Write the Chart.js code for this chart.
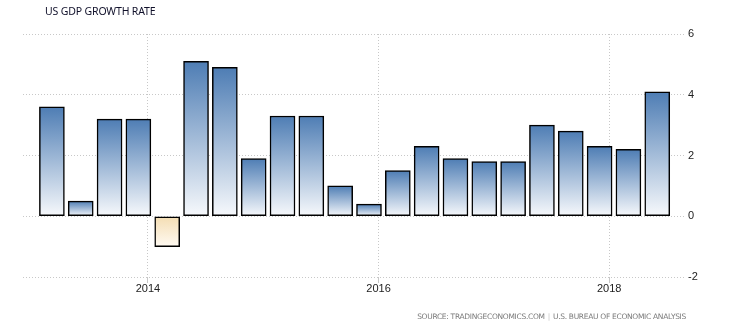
<!DOCTYPE html>
<html>
<head>
<meta charset="utf-8">
<script src="https://cdn.jsdelivr.net/npm/chart.js@4/dist/chart.umd.min.js"></script>
<style>
  html, body { margin: 0; padding: 0; background: #fff; }
  #wrap { position: relative; width: 752px; height: 331px; }
  #title { position: absolute; left: 45px; top: 4px; font: 10.5px "Noto Sans", "DejaVu Sans", sans-serif; color: #10102a; white-space: nowrap; letter-spacing: -0.15px; }
  #source { position: absolute; right: 66px; top: 312px; font: 7.5px "DejaVu Sans", sans-serif; color: #7a7a7a; white-space: nowrap; letter-spacing: -0.3px; }
  #source .sep { color: #c8c8c8; padding: 0 3px; }
  canvas { position: absolute; left: 0; top: 0; }
</style>
</head>
<body>
<div id="wrap">
  <canvas id="c" width="752" height="331"></canvas>
  <div id="title">US GDP GROWTH RATE</div>
  <div id="source">SOURCE: TRADINGECONOMICS.COM<span class="sep">|</span>U.S. BUREAU OF ECONOMIC ANALYSIS</div>
</div>
<script>
// Data
const quarters = ["2013Q1","2013Q2","2013Q3","2013Q4","2014Q1","2014Q2","2014Q3","2014Q4",
                  "2015Q1","2015Q2","2015Q3","2015Q4","2016Q1","2016Q2","2016Q3","2016Q4",
                  "2017Q1","2017Q2","2017Q3","2017Q4","2018Q1","2018Q2"];
const growthRate = [3.6, 0.5, 3.2, 3.2, -1.0, 5.1, 4.9, 1.9,
                    3.3, 3.3, 1.0, 0.4, 1.5, 2.3, 1.9, 1.8,
                    1.8, 3.0, 2.8, 2.3, 2.2, 4.1];
const xTickYears = [2014, 2016, 2018];
const yTicks = [-2, 0, 2, 4, 6];

// quarter label -> date as fractional year (bar placed at month 3q-1)
function quarterToYear(label) {
  const y = parseInt(label.slice(0, 4), 10);
  const q = parseInt(label.slice(5), 10);
  return y + (3 * q - 1) / 12;
}
const points = quarters.map((q, i) => ({ x: quarterToYear(q), y: growthRate[i] }));

function barFill(ctx) {
  const chart = ctx.chart;
  const ys = chart.scales.y;
  if (!ys || ctx.type !== 'data') return '#6a90bf';
  const v = ctx.raw.y;
  const p0 = ys.getPixelForValue(0);
  const pv = ys.getPixelForValue(v);
  const c = chart.ctx;
  if (!isFinite(p0) || !isFinite(pv) || p0 === pv) return '#6a90bf';
  if (v >= 0) {
    const g = c.createLinearGradient(0, pv, 0, p0);
    g.addColorStop(0, '#4e7db4');
    g.addColorStop(1, '#f7f9fc');
    return g;
  } else {
    const g = c.createLinearGradient(0, p0, 0, pv);
    g.addColorStop(0, '#f4ddb2');
    g.addColorStop(1, '#fffaf2');
    return g;
  }
}

const chart = new Chart(document.getElementById('c'), {
  type: 'bar',
  data: {
    datasets: [{
      data: points,
      backgroundColor: barFill,
      borderColor: '#000',
      borderWidth: 1.5,
      borderSkipped: false,
      barThickness: 25
    }]
  },
  options: {
    responsive: false,
    animation: false,
    devicePixelRatio: 1,
    layout: { padding: { left: 23, top: 34, right: 0, bottom: 0 } },
    plugins: { legend: { display: false }, title: { display: false }, tooltip: { enabled: false } },
    scales: {
      x: {
        type: 'linear',
        offset: false,
        min: 2012.916,
        max: 2018.666,
        afterBuildTicks: (s) => { s.ticks = xTickYears.map(v => ({ value: v })); },
        afterFit: (s) => { s.height = 54; },
        ticks: {
          callback: (v) => String(v),
          color: '#222',
          font: { family: 'Liberation Sans', size: 11 },
          padding: -1,
          maxRotation: 0,
          autoSkip: false
        },
        grid: {
          offset: false,
          color: '#c8c8c8',
          lineWidth: 1,
          tickLength: 6,
          drawOnChartArea: true
        },
        border: { display: false, dash: [1, 2] }
      },
      y: {
        position: 'right',
        min: -2,
        max: 6,
        afterBuildTicks: (s) => { s.ticks = yTicks.map(v => ({ value: v })); },
        afterFit: (s) => { s.width = 66; },
        ticks: {
          color: '#222',
          font: { family: 'Liberation Sans', size: 11 },
          padding: 2
        },
        grid: {
          color: '#c8c8c8',
          lineWidth: 1,
          drawTicks: false
        },
        border: { display: false, dash: [1, 2] }
      }
    }
  }
});
</script>
</body>
</html>
